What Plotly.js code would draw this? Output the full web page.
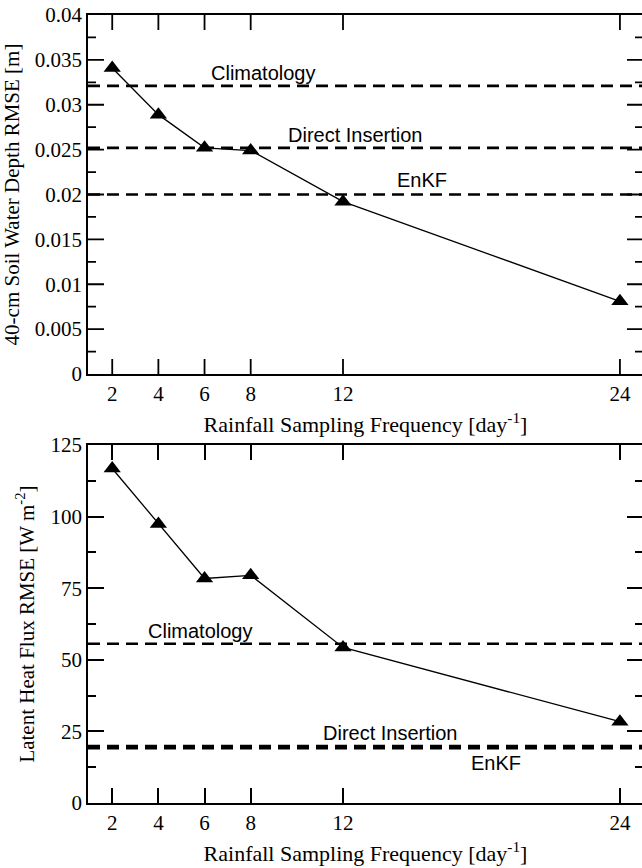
<!DOCTYPE html>
<html>
<head>
<meta charset="utf-8">
<script src="https://cdn.plot.ly/plotly-3.0.1.min.js"></script>
<style>
html,body{margin:0;padding:0;overflow:hidden;background:#fff;}
#chart{width:646px;height:868px;}
#chart path.xtick, #chart path.ytick{shape-rendering:geometricPrecision !important;stroke:#000 !important;stroke-opacity:1 !important;}
</style>
</head>
<body>
<div id="chart"></div>
<script>
// Data
const frequency = [2, 4, 6, 8, 12, 24];
const xTickLabels = ["2", "4", "6", "8", "12", "24"];
const soilRMSE = [0.0341, 0.0289, 0.0252, 0.0249, 0.0192, 0.0081];
const fluxRMSE = [116.8, 97.4, 78.4, 79.5, 54.3, 28.4];
const baselineNames = ["Climatology", "Direct Insertion", "EnKF"];
const soilBaselines = [0.0321, 0.0252, 0.0200];
const fluxBaselines = [55.6, 19.9, 19.1];

// axis range and label placement (layout, not data)
const xRange = [0.95, 25];
const soilLabelPos = [{x: 8.53, y: 0.0335}, {x: 12.56, y: 0.0266}, {x: 15.41, y: 0.0216}];
const fluxLabelPos = [{x: 5.80, y: 59.9}, {x: 14.07, y: 24.5}, {x: 18.62, y: 14.1}];

const serif = "Liberation Serif, Times New Roman, serif";
const sans = "Liberation Sans, Arial, sans-serif";
const ink = "#000";

const traces = [];
soilBaselines.forEach((v, i) => traces.push({x: xRange, y: [v, v], xaxis: "x", yaxis: "y", mode: "lines",
  name: baselineNames[i], line: {color: ink, width: 2.6, dash: "12px,7px"}, showlegend: false, hoverinfo: "skip"}));
fluxBaselines.forEach((v, i) => traces.push({x: xRange, y: [v, v], xaxis: "x2", yaxis: "y2", mode: "lines",
  name: baselineNames[i], line: {color: ink, width: 2.6, dash: "12px,7px"}, showlegend: false, hoverinfo: "skip"}));
traces.push({x: frequency, y: soilRMSE, xaxis: "x", yaxis: "y", mode: "lines+markers",
  line: {color: ink, width: 1.3}, marker: {symbol: "triangle-up", size: 15, color: ink}, showlegend: false});
traces.push({x: frequency, y: fluxRMSE, xaxis: "x2", yaxis: "y2", mode: "lines+markers",
  line: {color: ink, width: 1.3}, marker: {symbol: "triangle-up", size: 15, color: ink}, showlegend: false});

const annotations = [];
baselineNames.forEach((n, i) => {
  annotations.push({text: n, xref: "x", yref: "y", x: soilLabelPos[i].x, y: soilLabelPos[i].y, showarrow: false,
    font: {family: sans, size: 20, color: ink}, xanchor: "center", yanchor: "middle"});
  annotations.push({text: n, xref: "x2", yref: "y2", x: fluxLabelPos[i].x, y: fluxLabelPos[i].y, showarrow: false,
    font: {family: sans, size: 20, color: ink}, xanchor: "center", yanchor: "middle"});
});

function xAxis(anchor) {
  return {
    anchor: anchor, range: xRange, tickmode: "array", tickvals: frequency, ticktext: xTickLabels,
    ticks: "inside", ticklen: 15, tickwidth: 2, tickcolor: ink,
    showline: true, linecolor: ink, linewidth: 1.7, mirror: "ticks", showgrid: false, zeroline: false,
    tickfont: {family: serif, size: 21, color: ink},
    title: {text: "Rainfall Sampling Frequency [day<sup>-1</sup>]", font: {family: serif, size: 22, color: ink}, standoff: 12}
  };
}
function yAxis(anchor, domain, range, dtick, titleText) {
  return {
    anchor: anchor, domain: domain, range: range, dtick: dtick, tick0: 0,
    ticks: "inside", ticklen: 16, tickwidth: 2, tickcolor: ink,
    minor: {ticks: "inside", ticklen: 8, dtick: dtick / 2, tickwidth: 2, tickcolor: ink, showgrid: false},
    showline: true, linecolor: ink, linewidth: 1.7, mirror: "ticks", showgrid: false, zeroline: false,
    tickfont: {family: serif, size: 21, color: ink},
    title: {text: titleText, font: {family: serif, size: 21, color: ink}, standoff: 10}
  };
}

const layout = {
  width: 646, height: 868,
  margin: {l: 88, r: 3, t: 15, b: 65},
  xaxis: xAxis("y"),
  yaxis: yAxis("x", [0.5444, 1], [0, 0.04], 0.005, "40-cm Soil Water Depth RMSE [m]"),
  xaxis2: xAxis("y2"),
  yaxis2: yAxis("x2", [0, 0.4543], [0, 125], 25, "Latent Heat Flux RMSE [W m<sup>-2</sup>]"),
  annotations: annotations,
  showlegend: false
};

function fixTicks() {
  document.querySelectorAll("#chart path.xtick, #chart path.ytick").forEach(p => {
    p.style.strokeWidth = "1.8px";
    p.style.stroke = "#000";
    p.style.strokeOpacity = "1";
    p.style.shapeRendering = "geometricPrecision";
  });
}
const gd = document.getElementById("chart");
Plotly.newPlot(gd, traces, layout, {displayModeBar: false, staticPlot: true}).then(() => {
  fixTicks();
  gd.on("plotly_afterplot", fixTicks);
  setTimeout(fixTicks, 300);
});
</script>
</body>
</html>
